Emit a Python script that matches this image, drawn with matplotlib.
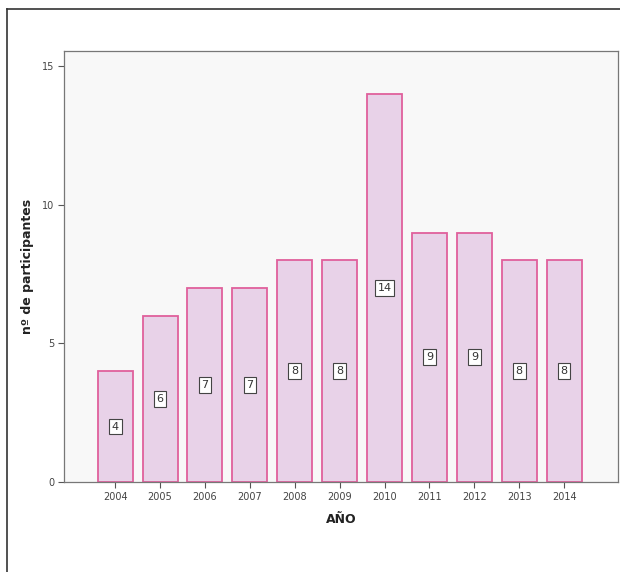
import matplotlib
matplotlib.use("Agg")
import matplotlib.pyplot as plt
from matplotlib.lines import Line2D

years = ["2004", "2005", "2006", "2007", "2008", "2009", "2010", "2011", "2012", "2013", "2014"]
participants = [4, 6, 7, 7, 8, 8, 14, 9, 9, 8, 8]
yticks = [0, 5, 10, 15]

W, H = 620, 572
fig = plt.figure(figsize=(W / 100, H / 100), dpi=100)
fig.patch.set_facecolor("white")

ax = fig.add_axes([64 / W, 1 - 482 / H, (618 - 64) / W, (482 - 51) / H])
ax.set_facecolor("#f8f8f8")

x = list(range(len(years)))
bars = ax.bar(x, participants, width=0.78, color="#e8d2e8", edgecolor="#e0609c", linewidth=1.3, zorder=2)

for xi, v in zip(x, participants):
    ax.text(xi, v / 2, str(v), ha="center", va="center", fontsize=8, color="#333333",
            bbox=dict(boxstyle="square,pad=0.25", facecolor="white", edgecolor="#444444", linewidth=0.8),
            zorder=3)

ax.set_xlim(-1.14, 11.2)
ax.set_ylim(0, 15.55)
ax.set_xticks(x)
ax.set_xticklabels(years, fontsize=7, color="#444444")
ax.set_yticks(yticks)
ax.set_yticklabels([str(t) for t in yticks], fontsize=7, color="#444444")
ax.tick_params(axis="both", direction="out", length=4, width=0.8, color="#555555", pad=3)

for s in ax.spines.values():
    s.set_color("#777777")
    s.set_linewidth(0.9)

ax.set_xlabel("AÑO", fontsize=9, fontweight="bold", color="#222222", labelpad=8)
ax.set_ylabel("nº de participantes", fontsize=9, fontweight="bold", color="#222222", labelpad=6)

# outer frame
fig.add_artist(Line2D([7 / W, 7 / W], [0, 1 - 9 / H], transform=fig.transFigure, color="#333333", linewidth=1.2))
fig.add_artist(Line2D([7 / W, 1], [1 - 9 / H, 1 - 9 / H], transform=fig.transFigure, color="#333333", linewidth=1.2))

fig.savefig("out.png", dpi=100)
